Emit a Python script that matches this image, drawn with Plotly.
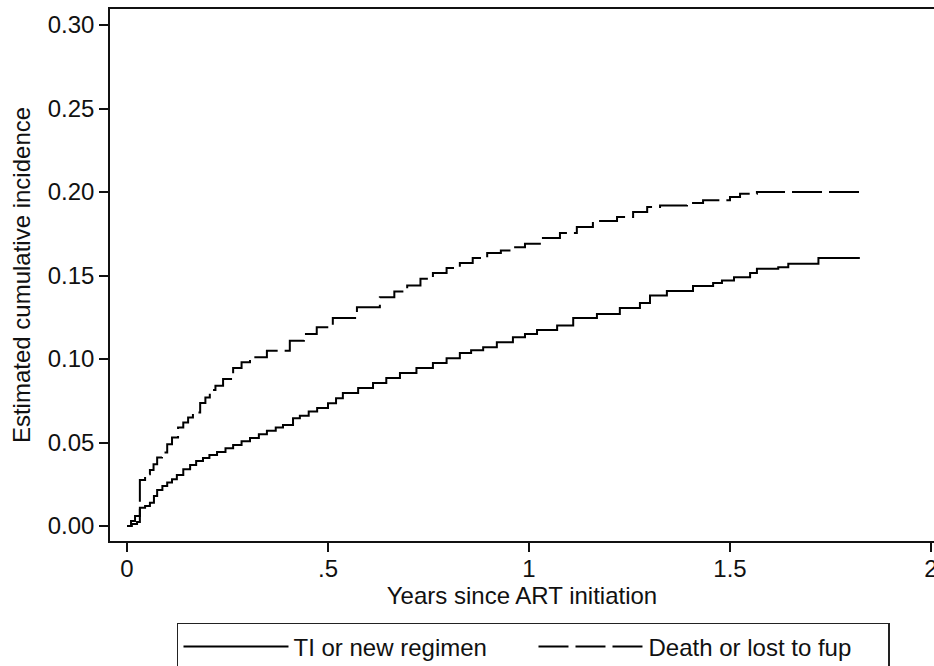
import plotly.graph_objects as go

# ---- data ----
ti_years = [0, 0.01, 0.02, 0.032, 0.045, 0.057, 0.067, 0.075, 0.088, 0.1, 0.112, 0.124, 0.14, 0.157,
            0.172, 0.189, 0.205, 0.224, 0.245, 0.264, 0.285, 0.306, 0.328, 0.348, 0.37, 0.388, 0.413,
            0.43, 0.452, 0.473, 0.5, 0.52, 0.537, 0.575, 0.612, 0.645, 0.679, 0.72, 0.761, 0.795,
            0.828, 0.856, 0.886, 0.92, 0.96, 0.99, 1.02, 1.07, 1.11, 1.169, 1.226, 1.276, 1.301,
            1.343, 1.408, 1.458, 1.48, 1.51, 1.55, 1.567, 1.62, 1.645, 1.72, 1.823]
ti_cif = [0, 0.003, 0.006, 0.011, 0.012, 0.014, 0.018, 0.0215, 0.024, 0.026, 0.028, 0.0305, 0.034,
          0.0365, 0.039, 0.0407, 0.0425, 0.0443, 0.0465, 0.0485, 0.0507, 0.0527, 0.055, 0.057, 0.059,
          0.0605, 0.0645, 0.066, 0.0685, 0.0707, 0.0735, 0.0765, 0.0796, 0.0826, 0.0856, 0.0886,
          0.0916, 0.0946, 0.0976, 0.1005, 0.1036, 0.1053, 0.107, 0.11, 0.113, 0.115, 0.1174, 0.12,
          0.1246, 0.127, 0.1305, 0.1335, 0.138, 0.1407, 0.1437, 0.1455, 0.147, 0.149, 0.1515, 0.154,
          0.155, 0.157, 0.1605, 0.1605]

death_years = [0, 0.012, 0.025, 0.032, 0.045, 0.057, 0.066, 0.075, 0.087, 0.1, 0.112, 0.127, 0.14,
               0.152, 0.164, 0.182, 0.195, 0.206, 0.22, 0.239, 0.264, 0.285, 0.306, 0.348, 0.405,
               0.44, 0.472, 0.512, 0.572, 0.629, 0.665, 0.697, 0.73, 0.761, 0.795, 0.828, 0.86,
               0.896, 0.93, 0.96, 0.99, 1.027, 1.077, 1.119, 1.159, 1.219, 1.259, 1.294, 1.326,
               1.393, 1.433, 1.5, 1.525, 1.567, 1.823]
death_cif = [0, 0.0012, 0.0024, 0.0275, 0.031, 0.0335, 0.037, 0.041, 0.044, 0.049, 0.053, 0.059,
             0.062, 0.065, 0.068, 0.0737, 0.077, 0.0814, 0.084, 0.088, 0.0946, 0.098, 0.101, 0.105,
             0.111, 0.115, 0.119, 0.1245, 0.131, 0.137, 0.1405, 0.144, 0.148, 0.1515, 0.1545,
             0.1575, 0.1605, 0.1635, 0.165, 0.167, 0.169, 0.1725, 0.1755, 0.179, 0.1826, 0.185,
             0.188, 0.191, 0.192, 0.1934, 0.195, 0.197, 0.199, 0.2, 0.2]

series_names = ["TI or new regimen", "Death or lost to fup"]
x_tickvals = [0, 0.5, 1, 1.5, 2]
x_ticktext = ["0", ".5", "1", "1.5", "2"]
y_tickvals = [0, 0.05, 0.10, 0.15, 0.20, 0.25, 0.30]
y_ticktext = ["0.00", "0.05", "0.10", "0.15", "0.20", "0.25", "0.30"]

FONT = "Arial, 'Liberation Sans', sans-serif"

fig = go.Figure()
fig.add_trace(go.Scatter(x=ti_years, y=ti_cif, mode="lines", name=series_names[0],
                         line=dict(color="black", width=2, shape="hv")))
fig.add_trace(go.Scatter(x=death_years, y=death_cif, mode="lines", name=series_names[1],
                         line=dict(color="black", width=2, shape="hv", dash="30px,7px")))

fig.update_layout(
    width=934, height=666,
    margin=dict(l=110, r=0, t=9, b=125, autoexpand=False),
    paper_bgcolor="white", plot_bgcolor="white",
    font=dict(family=FONT, size=24, color="#111"),
    showlegend=True,
    legend=dict(orientation="h", x=0.0813, xanchor="left", y=-0.154, yanchor="top",
                bordercolor="#222", borderwidth=1.5, bgcolor="white",
                font=dict(family=FONT, size=24, color="#111"),
                itemwidth=105, entrywidth=235, tracegroupgap=0),
)
fig.update_xaxes(
    range=[-0.0423, 2.0075], tickvals=x_tickvals, ticktext=x_ticktext,
    showgrid=False, zeroline=False, showline=True, linecolor="#111", linewidth=1.5,
    mirror=True, ticks="outside", ticklen=9, tickwidth=1.5, tickcolor="#111",
    automargin=False, ticklabelstandoff=-4, ticklabeloverflow="allow",
    title=dict(text="Years since ART initiation", standoff=0, font=dict(size=24)),
)
fig.update_yaxes(
    range=[-0.00898, 0.3096], tickvals=y_tickvals, ticktext=y_ticktext,
    showgrid=False, zeroline=False, showline=True, linecolor="#111", linewidth=1.5,
    mirror=False, ticks="outside", ticklen=9, tickwidth=1.5, tickcolor="#111",
    automargin=False,
    title=dict(text="Estimated cumulative incidence", standoff=10, font=dict(size=24)),
)

fig.write_html("out.html",
               config={"displayModeBar": False},
               post_script="document.body.style.margin='0';document.body.style.overflow='hidden';")
